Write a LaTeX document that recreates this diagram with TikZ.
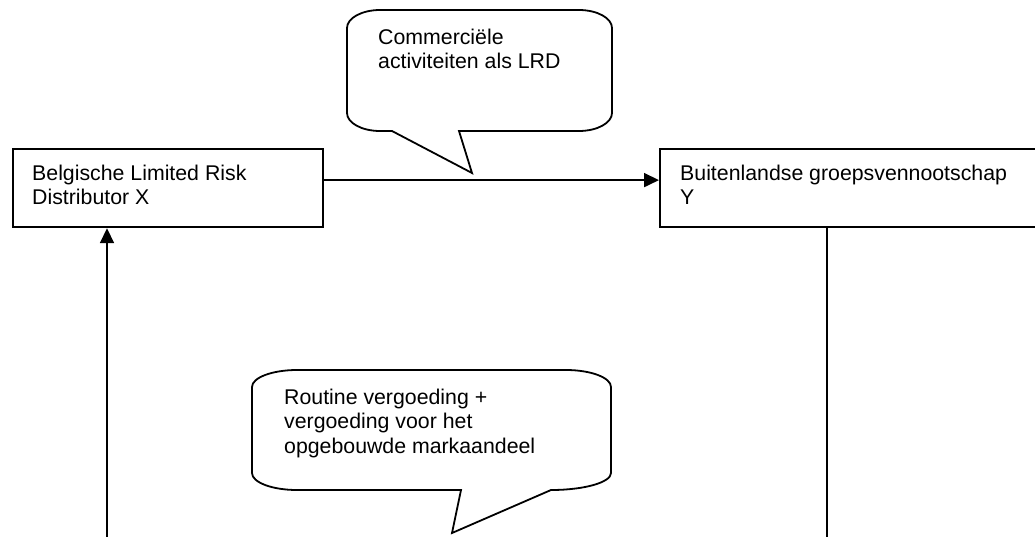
\documentclass[tikz,border=0pt]{standalone}
\usepackage{fontspec}
\setmainfont{Liberation Sans}
\usetikzlibrary{arrows.meta}
\begin{document}
\begin{tikzpicture}[x=1pt,y=-1pt,
  entity/.style={draw, line width=2.2pt, rectangle, inner sep=0pt, anchor=north west},
  labeltext/.style={anchor=base west, inner sep=0pt, font=\fontsize{21.3pt}{24.5pt}\selectfont},
  flow/.style={line width=1.8pt, -{Triangle[length=15pt,width=14pt]}},
  plainflow/.style={line width=1.8pt},
  bubble/.style={draw, fill=white, line width=1.8pt, line join=miter}]

\useasboundingbox (0,0) rectangle (1035,536);
\clip (0,0) rectangle (1035,536);

% the two companies
\node[entity, minimum width=310pt, minimum height=78pt] (lrd) at (12,148) {};
\node[entity, minimum width=400pt, minimum height=78pt] (grp) at (659,148) {};
\node[labeltext] (lrdtext) at (32,180) {\parbox[t]{280pt}{Belgische Limited Risk\\Distributor X}};
\node[labeltext] (grptext) at (680,180) {\parbox[t]{360pt}{Buitenlandse groepsvennootschap\\Y}};

% flows between the companies
\coordinate (lfoot) at (107,540);
\coordinate (rfoot) at (827,540);
\draw[flow] ([yshift=8pt]lrd.east) -- ([yshift=8pt]grp.west);
\draw[flow] (lfoot) -- (lfoot |- lrd.south);
\draw[plainflow] (grp.south -| rfoot) -- (rfoot);

% speech bubble above the top flow
\draw[bubble] (347,28) .. controls (347,18) and (362,10) .. (380,10)
  -- (579,10) .. controls (597,10) and (612,18) .. (612,28)
  -- (612,113) .. controls (612,123) and (597,131) .. (579,131)
  -- (459,131) -- (472,173) -- (392,131)
  -- (380,131) .. controls (362,131) and (347,123) .. (347,113) -- cycle;
\node[labeltext] (topnote) at (378,44) {\parbox[t]{220pt}{Commerciële\\activiteiten als LRD}};

% speech bubble for the remuneration
\draw[bubble] (252,387) .. controls (252,377.6) and (272.2,370) .. (297,370)
  -- (566,370) .. controls (590.8,370) and (611,377.6) .. (611,387)
  -- (611,473) .. controls (611,482.4) and (584.1,490) .. (551,490)
  -- (452,533) -- (461,490)
  -- (297,490) .. controls (272.2,490) and (252,482.4) .. (252,473) -- cycle;
\node[labeltext] (bottomnote) at (284,404) {\parbox[t]{300pt}{Routine vergoeding +\\vergoeding voor het\\opgebouwde markaandeel}};
\end{tikzpicture}
\end{document}
